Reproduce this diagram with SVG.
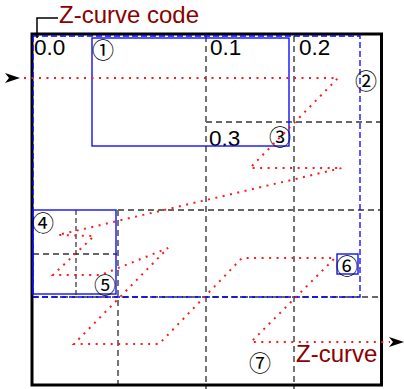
<svg xmlns="http://www.w3.org/2000/svg" width="404" height="389" viewBox="0 0 404 389">
<style>
.grid{fill:none;stroke:#666;stroke-width:1.8;stroke-dasharray:6 4}
.fine{fill:none;stroke:#000;stroke-width:1;stroke-dasharray:5 3}
.bdash{fill:none;stroke:#0000ff;stroke-width:1.3;stroke-dasharray:6 3}
.region{fill:none;stroke:#1010ff;stroke-width:1.4}
.lbl{font-family:"Liberation Sans",Arial,sans-serif;font-size:22.5px;fill:#000}
.red{font-family:"Liberation Sans",Arial,sans-serif;font-size:24px;fill:#8b0000}
.num{font-family:"Noto Sans CJK SC","DejaVu Sans",sans-serif;font-size:22px;fill:#000;text-anchor:middle;dominant-baseline:central}
.curve{fill:none;stroke:#ff1a1a;stroke-width:2;stroke-dasharray:2 5.5}
.lead{fill:none;stroke:#000;stroke-width:1.5}
</style>
<defs>
<path id="ah" d="M0,0 L-15,-5 L-11,0 L-15,5 Z" fill="#000"/>
</defs>
<rect width="404" height="389" fill="#fff"/>
<g id="grid">
<line class="grid" x1="206" y1="36" x2="206" y2="389"/>
<line class="grid" x1="294" y1="36" x2="294" y2="389"/>
<line class="grid" x1="118" y1="210" x2="118" y2="389"/>
<line class="grid" x1="206" y1="122" x2="382" y2="122"/>
<line class="grid" x1="118" y1="210" x2="382" y2="210"/>
<line class="grid" x1="32" y1="297" x2="382" y2="297"/>
<line class="grid" x1="33" y1="254" x2="117" y2="254"/>
<line class="fine" x1="76" y1="210" x2="76" y2="297"/>
</g>
<g id="outer">
<rect x="32" y="34" width="349.5" height="351" fill="none" stroke="#000" stroke-width="3"/>
<rect class="bdash" x="33" y="36" width="327" height="261"/>
</g>
<g id="cell-labels">
<text class="lbl" x="34" y="55">0.0</text>
<text class="lbl" x="210" y="55">0.1</text>
<text class="lbl" x="299" y="55">0.2</text>
<text class="lbl" x="209" y="146">0.3</text>
</g>
<g id="region1">
<rect class="region" x="92" y="38" width="197" height="108"/>
<text class="num" x="103" y="48">①</text>
</g>
<g id="region2"><text class="num" x="366" y="79">②</text></g>
<g id="region3"><text class="num" x="280" y="135">③</text></g>
<g id="region45">
<rect class="region" x="33" y="210" width="83" height="84"/>
<text class="num" x="43" y="221">④</text>
<text class="num" x="105" y="283">⑤</text>
</g>
<g id="region6">
<rect class="region" x="337" y="254" width="21" height="20"/>
<text class="num" x="347" y="264">⑥</text>
</g>
<g id="region7"><text class="num" x="260" y="361">⑦</text></g>
<g id="labels">
<text class="red" x="59" y="23">Z-curve code</text>
<text class="red" x="296" y="362">Z-curve</text>
</g>
<g id="connectors">
<path class="lead" d="M58,18 H37 V38"/>
<path class="curve" d="M24,78 L338,78 L250,168 L342,168 L58,235 L94,236 L53,275 L101,275 L168,248 L74,344 L159,344 L242,258 L335,258 L251,342 L390,342"/>
<use href="#ah" x="20" y="78"/>
<use href="#ah" x="404" y="342"/>
</g>
</svg>
